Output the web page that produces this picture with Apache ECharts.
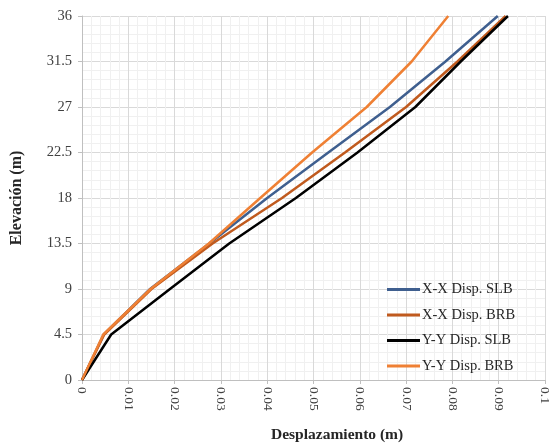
<!DOCTYPE html>
<html>
<head>
<meta charset="utf-8">
<script src="https://cdn.jsdelivr.net/npm/echarts@6/dist/echarts.min.js"></script>
<style>
  html, body { margin: 0; padding: 0; background: #fff; }
  #chart { width: 552px; height: 447px; }
</style>
</head>
<body>
<div id="chart"></div>
<script>
// Storey elevations (m)
const elevations = [0, 4.5, 9, 13.5, 18, 22.5, 27, 31.5, 36];

// Lateral displacement per storey (m)
const xxSLB = [0, 0.0047, 0.0147, 0.0275, 0.0400, 0.0532, 0.0665, 0.0785, 0.0898];
const xxBRB = [0, 0.0048, 0.0150, 0.0282, 0.0432, 0.0568, 0.0700, 0.0811, 0.0915];
const yySLB = [0, 0.0063, 0.0190, 0.0318, 0.0462, 0.0595, 0.0720, 0.0818, 0.0920];
const yyBRB = [0, 0.0046, 0.0148, 0.0274, 0.0385, 0.0497, 0.0615, 0.0712, 0.0791];

const seriesNames = ['X-X Disp. SLB', 'X-X Disp. BRB', 'Y-Y Disp. SLB', 'Y-Y Disp. BRB'];
const seriesValues = [xxSLB, xxBRB, yySLB, yyBRB];
const seriesColors = ['#3f5f8f', '#c05a1e', '#000000', '#ef8034'];

const serif = '"Liberation Serif", "DejaVu Serif", serif';

const chart = echarts.init(document.getElementById('chart'), null, { renderer: 'canvas' });

const series = seriesNames.map((name, i) => ({
  name: name,
  type: 'line',
  data: seriesValues[i].map((d, k) => [d, elevations[k]]),
  showSymbol: false,
  symbol: 'none',
  lineStyle: { width: 2.5, color: seriesColors[i] },
  itemStyle: { color: seriesColors[i] },
  animation: false
}));

chart.setOption({
  animation: false,
  backgroundColor: '#ffffff',
  grid: { left: 82, top: 16, right: -3, bottom: 67, containLabel: false },
  legend: {
    orient: 'vertical',
    left: 382,
    top: 277,
    itemWidth: 33,
    itemHeight: 3,
    itemGap: 10.5,
    icon: 'rect',
    data: seriesNames,
    textStyle: { fontFamily: serif, fontSize: 14.5, color: '#262626', padding: [0, 0, 0, -3] }
  },
  xAxis: {
    type: 'value',
    min: 0,
    max: 0.1,
    interval: 0.01,
    axisLine: { show: true, lineStyle: { color: '#bfbfbf', width: 1 } },
    axisTick: { show: true, length: 4, lineStyle: { color: '#bfbfbf' } },
    axisLabel: {
      rotate: -90,
      margin: 7,
      fontFamily: serif,
      fontSize: 13.5,
      color: '#404040',
      formatter: v => String(+v.toFixed(2))
    },
    splitLine: { show: true, lineStyle: { color: '#d9d9d9', width: 1 } },
    minorTick: { show: false, splitNumber: 5 },
    minorSplitLine: { show: true, lineStyle: { color: '#f0f0f0', width: 1 } }
  },
  yAxis: {
    type: 'value',
    min: 0,
    max: 36,
    interval: 4.5,
    name: 'Elevación (m)',
    nameLocation: 'middle',
    nameGap: 57,
    nameTextStyle: { fontFamily: serif, fontSize: 16, fontWeight: 'bold', color: '#262626' },
    axisLine: { show: true, lineStyle: { color: '#bfbfbf', width: 1 } },
    axisTick: { show: true, length: 4, lineStyle: { color: '#bfbfbf' } },
    axisLabel: { margin: 10, fontFamily: serif, fontSize: 14.5, color: '#404040' },
    splitLine: { show: true, lineStyle: { color: '#d9d9d9', width: 1 } },
    minorTick: { show: false, splitNumber: 5 },
    minorSplitLine: { show: true, lineStyle: { color: '#f0f0f0', width: 1 } }
  },
  graphic: [{
    type: 'text',
    left: 271,
    top: 427,
    style: {
      text: 'Desplazamiento (m)',
      font: 'bold 15.5px ' + serif,
      fill: '#262626'
    }
  }],
  series: series
});
</script>
</body>
</html>
